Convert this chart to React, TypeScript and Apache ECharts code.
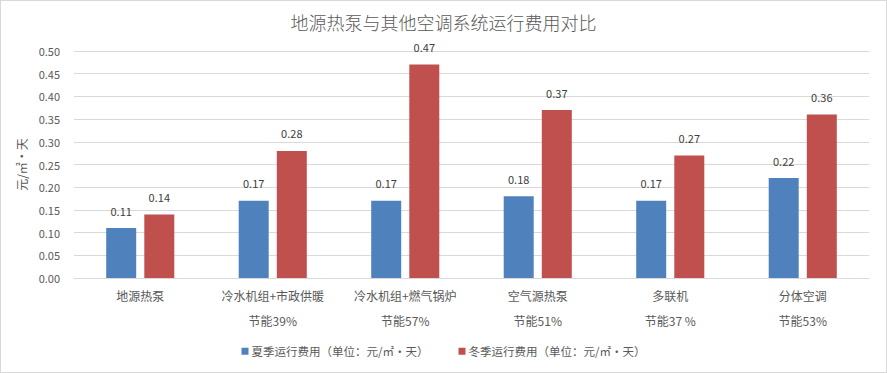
import React, { useEffect, useRef } from "react";
import * as echarts from "echarts";

const categories = ["地源热泵", "冷水机组+市政供暖", "冷水机组+燃气锅炉", "空气源热泵", "多联机", "分体空调"];
const savings = ["", "节能39%", "节能57%", "节能51%", "节能37 %", "节能53%"];
const summer = [0.11, 0.17, 0.17, 0.18, 0.17, 0.22];
const winter = [0.14, 0.28, 0.47, 0.37, 0.27, 0.36];
const seriesNames = ["夏季运行费用（单位：元/㎡·天）", "冬季运行费用（单位：元/㎡·天）"];

const FONT = "'Noto Sans CJK SC', 'Microsoft YaHei', sans-serif";

export default function App() {
  const ref = useRef<HTMLDivElement>(null);
  useEffect(() => {
    if (!ref.current) return;
    const chart = echarts.init(ref.current, undefined, { renderer: "svg" });
    const labels = categories.map((c, i) => (savings[i] ? c + "\n" + savings[i] : c));
    chart.setOption({
      animation: false,
      backgroundColor: "#fff",
      textStyle: { fontFamily: FONT },
      title: {
        text: "地源热泵与其他空调系统运行费用对比",
        left: "center",
        top: 7,
        textStyle: { fontSize: 18, fontWeight: 300, color: "#595959", fontFamily: FONT },
      },
      legend: {
        bottom: 10,
        left: "center",
        itemWidth: 7,
        itemHeight: 7,
        itemGap: 30,
        icon: "rect",
        textStyle: { fontSize: 11.5, color: "#595959", fontFamily: FONT, padding: [0, 0, 0, -2] },
        data: seriesNames,
      },
      grid: { left: 73, right: 17, top: 50, bottom: 94 },
      xAxis: {
        type: "category",
        data: labels,
        axisLine: { lineStyle: { color: "#D9D9D9" } },
        axisTick: { show: false },
        axisLabel: { color: "#595959", fontSize: 12, lineHeight: 25, margin: 5, interval: 0, fontFamily: FONT },
      },
      yAxis: {
        type: "value",
        min: 0,
        max: 0.5,
        interval: 0.05,
        name: "元/㎡·天",
        nameLocation: "middle",
        nameGap: 45,
        nameRotate: 90,
        nameTextStyle: { color: "#595959", fontSize: 12, fontFamily: FONT },
        axisLine: { show: false },
        axisTick: { show: false },
        splitLine: { lineStyle: { color: "#D9D9D9" } },
        axisLabel: { color: "#595959", fontSize: 11, formatter: (v: number) => v.toFixed(2), margin: 14 },
      },
      series: [
        {
          name: seriesNames[0],
          type: "bar",
          data: summer,
          barWidth: 30,
          barGap: "27%",
          itemStyle: { color: "#4F81BD" },
          label: { show: true, position: "top", distance: 12, color: "#404040", fontSize: 11, formatter: (p: any) => p.value.toFixed(2) },
        },
        {
          name: seriesNames[1],
          type: "bar",
          data: winter,
          barWidth: 30,
          itemStyle: { color: "#C0504D" },
          label: { show: true, position: "top", distance: 12, color: "#404040", fontSize: 11, formatter: (p: any) => p.value.toFixed(2) },
        },
      ],
    });
    return () => chart.dispose();
  }, []);
  return (
    <div
      ref={ref}
      style={{ position: "fixed", left: 0, top: 0, width: 887, height: 373, boxSizing: "border-box", border: "1px solid #D9D9D9" }}
    />
  );
}
